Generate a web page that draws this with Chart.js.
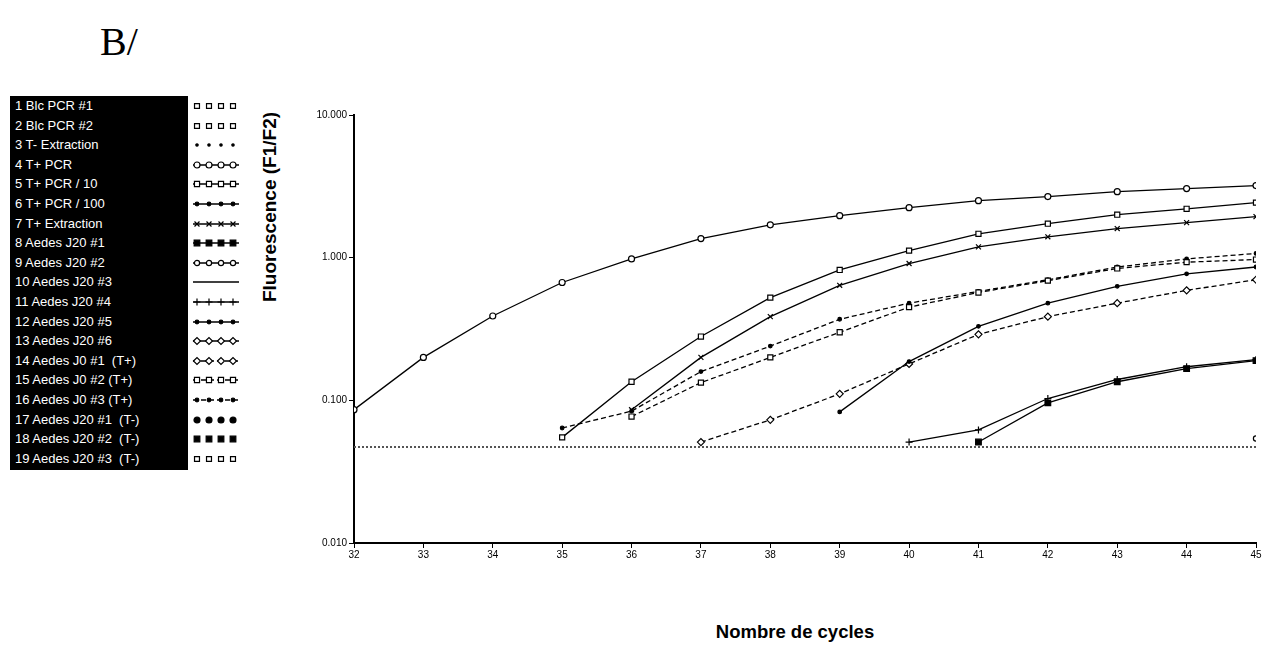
<!DOCTYPE html>
<html>
<head>
<meta charset="utf-8">
<script src="https://cdn.jsdelivr.net/npm/chart.js@4.4.1/dist/chart.umd.min.js"></script>
<style>
  body { margin: 0; background: #fff; width: 1268px; height: 651px; position: relative; overflow: hidden;
         font-family: "Liberation Sans", Arial, sans-serif; }
  #panel { position: absolute; left: 100px; top: 18px; font-family: "Liberation Serif", "Times New Roman", serif; font-size: 40px; }
  #legend { position: absolute; left: 10px; top: 96px; width: 178px; height: 374px; background: #000; }
  .row { position: absolute; left: 0; width: 178px; height: 19.6px; line-height: 19.6px; color: #fff;
         font-size: 13px; padding-left: 5px; box-sizing: border-box; white-space: pre; }
  .sample { position: absolute; left: 192px; }
  #ytitle { position: absolute; left: 120px; top: 196px; width: 300px; text-align: center; font-weight: bold;
            font-size: 19px; transform: rotate(-90deg); transform-origin: 50% 50%; }
  #xtitle { position: absolute; left: 645px; top: 621px; width: 300px; text-align: center; font-weight: bold; font-size: 18.5px; }
  #chart { position: absolute; left: 0; top: 0; }
</style>
</head>
<body>
<div id="panel">B/</div>
<div id="legend"></div>
<div id="ytitle">Fluorescence (F1/F2)</div>
<div id="xtitle">Nombre de cycles</div>
<canvas id="chart" width="1268" height="651"></canvas>
<script>
// cycle numbers on the x axis
const cycles = [32, 33, 34, 35, 36, 37, 38, 39, 40, 41, 42, 43, 44, 45];
const yTicks = [0.01, 0.1, 1, 10];
const threshold = 0.047;

const names = [
  '1 Blc PCR #1', '2 Blc PCR #2', '3 T- Extraction', '4 T+ PCR', '5 T+ PCR / 10',
  '6 T+ PCR / 100', '7 T+ Extraction', '8 Aedes J20 #1', '9 Aedes J20 #2', '10 Aedes J20 #3',
  '11 Aedes J20 #4', '12 Aedes J20 #5', '13 Aedes J20 #6', '14 Aedes J0 #1  (T+)', '15 Aedes J0 #2 (T+)',
  '16 Aedes J0 #3 (T+)', '17 Aedes J20 #1  (T-)', '18 Aedes J20 #2  (T-)', '19 Aedes J20 #3  (T-)'
];

// fluorescence values, one per cycle (null = no point)
const tPcr    = [0.086, 0.20, 0.39, 0.67, 0.98, 1.36, 1.70, 1.97, 2.24, 2.51, 2.68, 2.90, 3.05, 3.20];
const tPcr10  = [null, null, null, 0.055, 0.135, 0.28, 0.525, 0.82, 1.12, 1.47, 1.73, 2.00, 2.20, 2.43];
const tPcr100 = [null, null, null, null, null, null, null, 0.083, 0.187, 0.33, 0.48, 0.63, 0.77, 0.86];
const tExtr   = [null, null, null, null, 0.086, 0.20, 0.386, 0.64, 0.91, 1.19, 1.40, 1.60, 1.76, 1.94];
const j20n1   = [null, null, null, null, null, null, null, null, null, 0.051, 0.096, 0.135, 0.167, 0.19];
const j20n2   = [null, null, null, null, null, null, null, null, null, null, null, null, null, 0.054];
const j20n4   = [null, null, null, null, null, null, null, null, 0.051, 0.062, 0.103, 0.14, 0.172, 0.193];
const j0n1    = [null, null, null, null, null, 0.051, 0.073, 0.111, 0.18, 0.29, 0.386, 0.48, 0.59, 0.70];
const j0n2    = [null, null, null, null, 0.077, 0.133, 0.20, 0.30, 0.45, 0.57, 0.69, 0.84, 0.93, 0.97];
const j0n3    = [null, null, null, 0.064, 0.084, 0.159, 0.24, 0.37, 0.48, 0.58, 0.70, 0.86, 0.98, 1.07];

const seriesValues = { 3: tPcr, 4: tPcr10, 5: tPcr100, 6: tExtr, 7: j20n1, 8: j20n2, 10: j20n4, 13: j0n1, 14: j0n2, 15: j0n3 };

// line / marker look of each legend entry
const DASH = [5, 3];
const styles = [
  { line: false, point: 'rect', r: 3.5, fill: false },
  { line: false, point: 'rect', r: 3.5, fill: false },
  { line: false, point: 'circle', r: 1.2, fill: true },
  { line: true, point: 'circle', r: 3, fill: false },
  { line: true, point: 'rect', r: 3.6, fill: false },
  { line: true, point: 'circle', r: 1.8, fill: true },
  { line: true, point: 'crossRot', r: 3.5, fill: false },
  { line: true, point: 'rect', r: 4, fill: true },
  { line: true, point: 'circle', r: 2.6, fill: false },
  { line: true, point: false, r: 0, fill: false },
  { line: true, point: 'cross', r: 3.5, fill: false },
  { line: true, point: 'circle', r: 1.8, fill: true },
  { line: true, point: 'rectRot', r: 3.5, fill: false },
  { line: true, point: 'rectRot', r: 3.5, fill: false, dash: DASH },
  { line: true, point: 'rect', r: 3.6, fill: false, dash: DASH },
  { line: true, point: 'circle', r: 1.8, fill: true, dash: DASH },
  { line: false, point: 'circle', r: 3, fill: true },
  { line: false, point: 'rect', r: 4, fill: true },
  { line: false, point: 'rect', r: 3.5, fill: false }
];

// legend: white text on black, samples beside it
const legend = document.getElementById('legend');
names.forEach((name, i) => {
  const row = document.createElement('div');
  row.className = 'row';
  row.style.top = (i * 19.6) + 'px';
  row.textContent = name;
  legend.appendChild(row);

  const c = document.createElement('canvas');
  c.width = 48; c.height = 14;
  c.className = 'sample';
  c.style.top = (96 + i * 19.6 + 3) + 'px';
  document.body.appendChild(c);
  const ctx = c.getContext('2d');
  const s = styles[i];
  ctx.strokeStyle = '#000';
  if (s.line) {
    ctx.lineWidth = 1.3;
    ctx.setLineDash(s.dash || []);
    ctx.beginPath(); ctx.moveTo(1, 7); ctx.lineTo(47, 7); ctx.stroke();
    ctx.setLineDash([]);
  }
  if (s.point) {
    [5, 17, 29, 41].forEach(x => {
      ctx.fillStyle = s.fill ? '#000' : '#fff';
      ctx.lineWidth = 1.2;
      Chart.helpers.drawPoint(ctx, { pointStyle: s.point, radius: s.r, rotation: 0, borderWidth: 1.2 }, x, 7);
    });
  }
});

const datasets = [{
  label: 'threshold',
  data: [{ x: cycles[0], y: threshold }, { x: cycles[cycles.length - 1], y: threshold }],
  borderColor: '#555', borderWidth: 2, borderDash: [2, 2], pointRadius: 0
}];
names.forEach((name, i) => {
  const vals = seriesValues[i];
  if (!vals) return;
  const s = styles[i];
  datasets.push({
    label: name,
    data: cycles.map((c, k) => ({ x: c, y: vals[k] })).filter(p => p.y !== null),
    borderColor: '#000',
    borderWidth: 1.3,
    borderDash: s.dash || [],
    showLine: s.line,
    pointStyle: s.point || 'circle',
    pointRadius: s.point ? s.r : 0,
    pointBackgroundColor: s.fill ? '#000' : '#fff',
    pointBorderColor: '#000',
    pointBorderWidth: 1.2
  });
});

const font = { family: '"Liberation Sans", Arial, sans-serif', size: 10 };

new Chart(document.getElementById('chart'), {
  type: 'line',
  data: { datasets },
  options: {
    responsive: false,
    animation: false,
    layout: { padding: { left: 294, top: 115, right: 12, bottom: 78 } },
    plugins: { legend: { display: false }, tooltip: { enabled: false } },
    scales: {
      x: {
        type: 'linear', min: 32, max: 45,
        afterFit: s => { s.height = 30; },
        afterBuildTicks: s => { s.ticks = cycles.map(v => ({ value: v })); },
        ticks: { color: '#000', font, padding: 1, maxRotation: 0 },
        grid: { drawOnChartArea: false, drawTicks: true, tickLength: 5, color: '#000', tickWidth: 1 },
        border: { display: true, color: '#000', width: 2 }
      },
      y: {
        type: 'logarithmic', min: 0.01, max: 10,
        afterFit: s => { s.width = 60; },
        afterBuildTicks: s => { s.ticks = yTicks.map(v => ({ value: v })); },
        ticks: { color: '#000', font, padding: 2, callback: v => Number(v).toFixed(3) },
        grid: { drawOnChartArea: false, drawTicks: true, tickLength: 5, color: '#000', tickWidth: 1 },
        border: { display: true, color: '#000', width: 2 }
      }
    }
  }
});
</script>
</body>
</html>
